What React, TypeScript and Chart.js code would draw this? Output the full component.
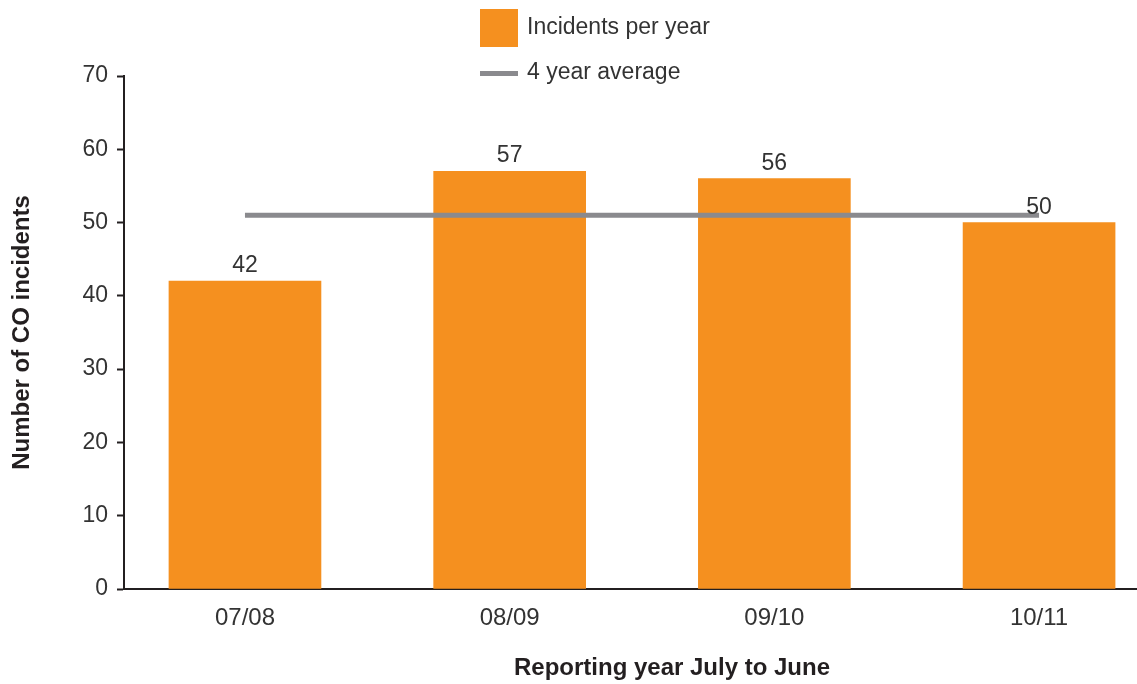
import React, { useEffect, useRef } from "react";
import { Chart, registerables } from "chart.js";

Chart.register(...registerables);

const categories = ["07/08", "08/09", "09/10", "10/11"];
const incidents = [42, 57, 56, 50];
const fourYearAverage = [51, 51, 51, 51];
const legendLabels = ["Incidents per year", "4 year average"];
const xTitle = "Reporting year July to June";
const yTitle = "Number of CO incidents";

const ORANGE = "#F5901F";
const GREY = "#8A8A8E";
const TEXT = "#333333";
const AXIS = "#231F20";
const FONT = "'Liberation Sans', Arial, Helvetica, sans-serif";

const overlayPlugin = {
  id: "overlay",
  afterDatasetsDraw(chart: any) {
    const ctx = chart.ctx;
    ctx.save();
    const meta = chart.getDatasetMeta(0);
    ctx.font = `23px ${FONT}`;
    ctx.fillStyle = TEXT;
    ctx.textAlign = "center";
    ctx.textBaseline = "alphabetic";
    meta.data.forEach((el: any, i: number) => {
      ctx.fillText(String(incidents[i]), el.x, el.y - 9);
    });
    ctx.restore();
  },
  afterDraw(chart: any) {
    const ctx = chart.ctx;
    ctx.save();
    // legend
    ctx.fillStyle = ORANGE;
    ctx.fillRect(480, 9, 38, 38);
    ctx.fillStyle = GREY;
    ctx.fillRect(480, 71, 38, 5);
    ctx.fillStyle = TEXT;
    ctx.font = `23px ${FONT}`;
    ctx.textAlign = "left";
    ctx.textBaseline = "middle";
    ctx.fillText(legendLabels[0], 527, 28);
    ctx.fillText(legendLabels[1], 527, 73);
    // x axis title
    ctx.font = `bold 24px ${FONT}`;
    ctx.fillStyle = "#231F20";
    ctx.textAlign = "center";
    ctx.fillText(xTitle, 672, 668);
    ctx.restore();
  },
};

export default function App() {
  const canvasRef = useRef<HTMLCanvasElement | null>(null);

  useEffect(() => {
    if (!canvasRef.current) return;
    const chart = new Chart(canvasRef.current, {
      type: "bar",
      data: {
        datasets: [
          {
            type: "bar",
            label: legendLabels[0],
            data: incidents.map((v, i) => ({ x: i, y: v })),
            backgroundColor: ORANGE,
            barThickness: 152,
            order: 1,
          } as any,
          {
            type: "line",
            label: legendLabels[1],
            data: fourYearAverage.map((v, i) => ({ x: i, y: v })),
            borderColor: GREY,
            borderWidth: 5,
            pointRadius: 0,
            fill: false,
            order: 0,
          } as any,
        ],
      },
      plugins: [overlayPlugin],
      options: {
        responsive: false,
        animation: false,
        layout: { padding: { top: 76, right: 0, bottom: 0, left: 0 } },
        plugins: {
          legend: { display: false },
          tooltip: { enabled: false },
        },
        scales: {
          x: {
            type: "linear",
            min: -0.457,
            max: 3.37,
            offset: false,
            bounds: "data",
            afterBuildTicks: (scale: any) => {
              scale.ticks = categories.map((_, i) => ({ value: i }));
            },
            afterFit: (scale: any) => {
              scale.height = 95;
            },
            grid: { display: false, drawTicks: false },
            border: { display: true, color: AXIS, width: 2 },
            ticks: {
              padding: 15,
              color: TEXT,
              font: { family: FONT, size: 24 },
              callback: (value: any) => categories[Math.round(Number(value))] ?? "",
            },
          },
          y: {
            min: 0,
            max: 70,
            afterFit: (scale: any) => {
              scale.width = 124;
            },
            grid: {
              display: true,
              drawOnChartArea: false,
              drawTicks: true,
              tickLength: 7,
              tickWidth: 2,
              tickColor: AXIS,
              color: AXIS,
            },
            border: { display: true, color: AXIS, width: 2 },
            ticks: {
              stepSize: 10,
              padding: 9,
              color: TEXT,
              font: { family: FONT, size: 23 },
            },
            title: {
              display: true,
              text: yTitle,
              color: "#231F20",
              font: { family: FONT, size: 24, weight: "bold" },
              padding: { top: 8, bottom: 0 },
            },
          },
        },
      } as any,
    });
    return () => chart.destroy();
  }, []);

  return (
    <div style={{ position: "fixed", left: 0, top: 0, width: 1137, height: 684, background: "#fff" }}>
      <canvas ref={canvasRef} width={1137} height={684} style={{ width: 1137, height: 684, display: "block" }} />
    </div>
  );
}
